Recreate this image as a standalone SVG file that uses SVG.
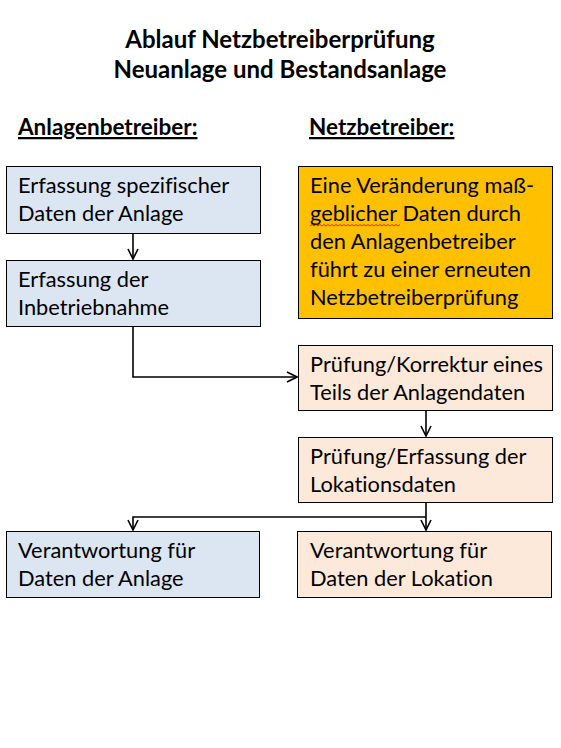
<svg xmlns="http://www.w3.org/2000/svg" width="561" height="748" viewBox="0 0 561 748">
<defs>
<style>
text{font-family:Lato,"Open Sans","Liberation Sans",sans-serif;fill:#000;font-variant-ligatures:none}
.t{font-size:24px;font-weight:bold}
.h{font-size:22.5px;font-weight:bold;text-decoration:underline}
.b{font-size:21.8px}
.blue{fill:#DCE6F2;stroke:#000;stroke-width:1}
.peach{fill:#FDE9D9;stroke:#000;stroke-width:1}
.orange{fill:#FFC000;stroke:#000;stroke-width:1}
.c{fill:none;stroke:#000;stroke-width:1.6}
</style>
<marker id="a" viewBox="0 0 12 12" refX="11" refY="6" markerWidth="12" markerHeight="12" markerUnits="userSpaceOnUse" orient="auto">
<path d="M1,1 L11,6 L1,11" fill="none" stroke="#000" stroke-width="1.6"/>
</marker>
</defs>
<rect width="561" height="748" fill="#fff"/>
<g id="title">
<text class="t" x="280" y="48" text-anchor="middle">Ablauf Netzbetreiberprüfung</text>
<text class="t" x="280" y="78" text-anchor="middle">Neuanlage und Bestandsanlage</text>
</g>
<g id="header-left"><text class="h" x="18" y="135">Anlagenbetreiber:</text></g>
<g id="header-right"><text class="h" x="309" y="135">Netzbetreiber:</text></g>
<g id="connectors">
<path class="c" d="M133,234 V259" marker-end="url(#a)"/>
<path class="c" d="M133,327 V377 H297" marker-end="url(#a)"/>
<path class="c" d="M426,411 V436" marker-end="url(#a)"/>
<path class="c" d="M426,503 V530" marker-end="url(#a)"/>
<path class="c" d="M426,517 H133 V530" marker-end="url(#a)"/>
</g>
<g id="n1"><rect class="blue" x="6.5" y="166.5" width="254" height="67"/>
<text class="b" x="18" y="193">Erfassung spezifischer</text>
<text class="b" x="18" y="221">Daten der Anlage</text></g>
<g id="n2"><rect class="blue" x="6.5" y="260.5" width="254" height="66"/>
<text class="b" x="18" y="287">Erfassung der</text>
<text class="b" x="18" y="315">Inbetriebnahme</text></g>
<g id="n3"><rect class="orange" x="298.5" y="166.5" width="254" height="152"/>
<text class="b" x="310" y="193">Eine Veränderung maß-</text>
<text class="b" x="310" y="221">geblicher Daten durch</text>
<text class="b" x="310" y="249">den Anlagenbetreiber</text>
<text class="b" x="310" y="277">führt zu einer erneuten</text>
<text class="b" x="310" y="305">Netzbetreiberprüfung</text>
<path d="M310,226 l2,-1.5 l2,1.5 l2,-1.5 l2,1.5 l2,-1.5 l2,1.5 l2,-1.5 l2,1.5 l2,-1.5 l2,1.5 l2,-1.5 l2,1.5 l2,-1.5 l2,1.5 l2,-1.5 l2,1.5 l2,-1.5 l2,1.5 l2,-1.5 l2,1.5 l2,-1.5 l2,1.5 l2,-1.5 l2,1.5 l2,-1.5 l2,1.5 l2,-1.5 l2,1.5 l2,-1.5 l2,1.5 l2,-1.5 l2,1.5 l2,-1.5 l2,1.5 l2,-1.5 l2,1.5 l2,-1.5 l2,1.5 l2,-1.5 l2,1.5 l2,-1.5 l2,1.5 l2,-1.5 l2,1.5 l2,-1.5" fill="none" stroke="#e00" stroke-width="0.8"/></g>
<g id="n4"><rect class="peach" x="298.5" y="345.5" width="254" height="65"/>
<text class="b" x="310" y="372">Prüfung/Korrektur eines</text>
<text class="b" x="310" y="400">Teils der Anlagendaten</text></g>
<g id="n5"><rect class="peach" x="298.5" y="437.5" width="254" height="65"/>
<text class="b" x="310" y="464">Prüfung/Erfassung der</text>
<text class="b" x="310" y="492">Lokationsdaten</text></g>
<g id="n6"><rect class="blue" x="6.5" y="531.5" width="253" height="66"/>
<text class="b" x="18" y="558">Verantwortung für</text>
<text class="b" x="18" y="586">Daten der Anlage</text></g>
<g id="n7"><rect class="peach" x="297.5" y="531.5" width="254" height="66"/>
<text class="b" x="310" y="558">Verantwortung für</text>
<text class="b" x="310" y="586">Daten der Lokation</text></g>
</svg>
